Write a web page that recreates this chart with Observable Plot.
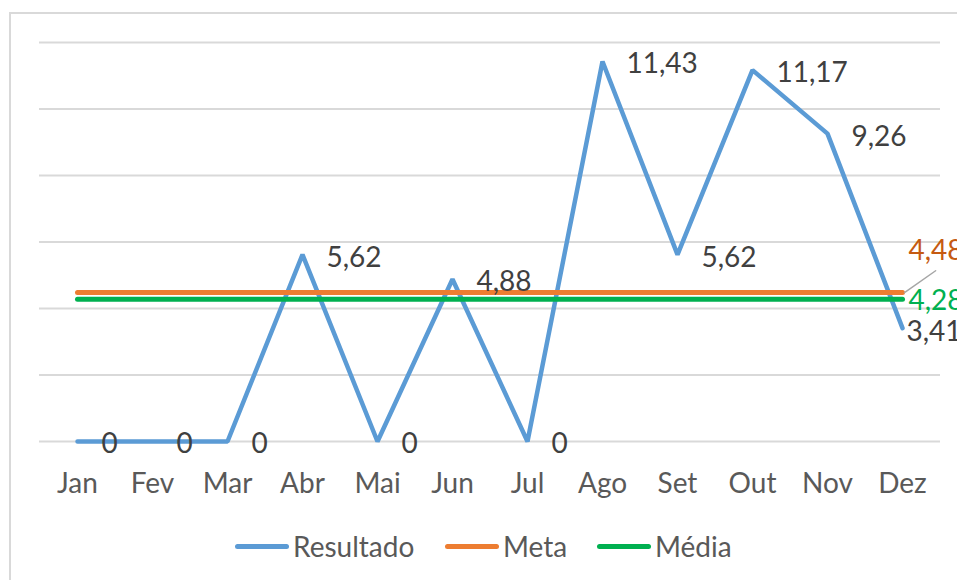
<!DOCTYPE html>
<html>
<head>
<meta charset="utf-8">
<script src="https://cdn.jsdelivr.net/npm/d3@7"></script>
<script src="https://cdn.jsdelivr.net/npm/@observablehq/plot@0.6"></script>
<style>
  html, body { margin: 0; padding: 0; background: #fff; }
  #wrap { position: relative; width: 957px; height: 580px; overflow: hidden; font-family: Lato, "Open Sans", sans-serif; }
  #border { position: absolute; left: 9px; top: 12px; width: 1200px; height: 1200px; border: 2px solid #d9d9d9; box-sizing: border-box; }
  #chart { position: absolute; left: 0; top: 0; }
  #legend { position: absolute; left: 0; top: 528px; width: 957px; height: 36px; }
  .item { position: absolute; top: 0; display: flex; align-items: center; height: 36px; font-size: 28px; color: #595959; }
  .swatch { width: 54px; height: 5px; border-radius: 3px; margin-right: 4px; }
</style>
</head>
<body>
<div id="wrap">
  <div id="border"></div>
  <div id="chart"></div>
  <div id="legend"></div>
</div>
<script>
const months = ["Jan","Fev","Mar","Abr","Mai","Jun","Jul","Ago","Set","Out","Nov","Dez"];
const resultado = [0, 0, 0, 5.62, 0, 4.88, 0, 11.43, 5.62, 11.17, 9.26, 3.41];
const meta = [4.48, 4.48, 4.48, 4.48, 4.48, 4.48, 4.48, 4.48, 4.48, 4.48, 4.48, 4.48];
const media = [4.28, 4.28, 4.28, 4.28, 4.28, 4.28, 4.28, 4.28, 4.28, 4.28, 4.28, 4.28];
const yTicks = [0, 2, 4, 6, 8, 10, 12];
const seriesNames = ["Resultado", "Meta", "Média"];
const colors = ["#5B9BD5", "#ED7D31", "#00B050"];

const fmt = v => String(v).replace(".", ",");
const resData = months.map((m, i) => ({m, v: resultado[i]}));
const metaData = months.map((m, i) => ({m, v: meta[i]}));
const mediaData = months.map((m, i) => ({m, v: media[i]}));
const last = months.length - 1;

const leader = {
  draw(context, l) { context.moveTo(0, 0); context.lineTo(0, -l); }
};

const chart = Plot.plot({
  width: 957,
  height: 510,
  marginLeft: 39,
  marginRight: 17,
  marginTop: 42,
  marginBottom: 69,
  x: {type: "point", domain: months, padding: 0.5, label: null},
  y: {domain: [0, 12], label: null, axis: null},
  style: {fontFamily: "Lato, 'Open Sans', sans-serif", fontSize: "28px", background: "transparent"},
  marks: [
    Plot.gridY(yTicks, {stroke: "#d9d9d9", strokeOpacity: 1, strokeWidth: 2}),
    Plot.axisX({tickSize: 0, tickPadding: 32, fontSize: 28, fill: "#595959"}),
    Plot.line(resData, {x: "m", y: "v", stroke: colors[0], strokeWidth: 4.5, strokeLinecap: "round", strokeLinejoin: "miter"}),
    Plot.line(metaData, {x: "m", y: "v", stroke: colors[1], strokeWidth: 5, strokeLinecap: "round"}),
    Plot.line(mediaData, {x: "m", y: "v", stroke: colors[2], strokeWidth: 5, strokeLinecap: "round"}),
    Plot.text(resData.slice(0, last), {x: "m", y: "v", text: d => fmt(d.v), textAnchor: "start", dx: 24, dy: 3, fill: "#404040", fontSize: 28}),
    Plot.text(resData.slice(last), {x: "m", y: "v", text: d => fmt(d.v), textAnchor: "start", dx: 4, dy: 4, fill: "#404040", fontSize: 28}),
    Plot.vector(metaData.slice(last), {x: "m", y: "v", length: 38, rotate: 55, anchor: "start", shape: leader, stroke: "#a6a6a6", strokeWidth: 1.5, dx: 2}),
    Plot.text(metaData.slice(last), {x: "m", y: "v", text: d => fmt(d.v), textAnchor: "start", dx: 6, dy: -42, fill: "#C55A11", fontSize: 28}),
    Plot.text(mediaData.slice(last), {x: "m", y: "v", text: d => fmt(d.v), textAnchor: "start", dx: 6, dy: 2, fill: "#00B050", fontSize: 28})
  ]
});
document.getElementById("chart").appendChild(chart);

const legend = document.getElementById("legend");
const lefts = [235, 445, 597];
seriesNames.forEach((name, i) => {
  const item = document.createElement("div");
  item.className = "item";
  item.style.left = lefts[i] + "px";
  const sw = document.createElement("div");
  sw.className = "swatch";
  sw.style.background = colors[i];
  const label = document.createElement("span");
  label.textContent = name;
  item.appendChild(sw);
  item.appendChild(label);
  legend.appendChild(item);
});
</script>
</body>
</html>
